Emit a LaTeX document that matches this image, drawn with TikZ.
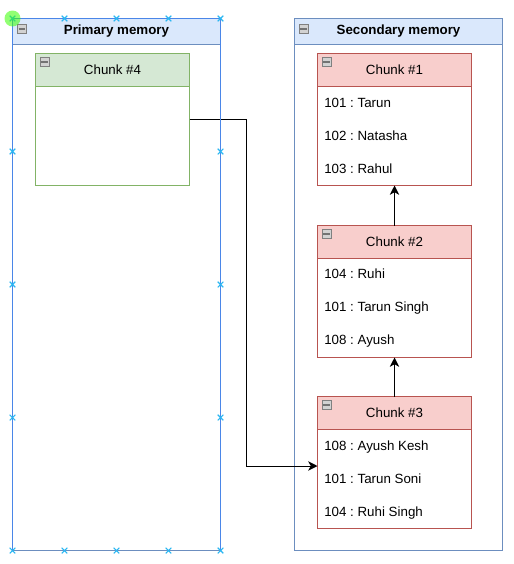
\documentclass[tikz,border=0pt]{standalone}
\usepackage{fontspec}
\setmainfont{Liberation Sans}
\usetikzlibrary{arrows.meta,shapes.misc}

\definecolor{memfill}{HTML}{DAE8FC}
\definecolor{memline}{HTML}{6C8EBF}
\definecolor{redfill}{HTML}{F8CECC}
\definecolor{redline}{HTML}{B85450}
\definecolor{greenfill}{HTML}{D5E8D4}
\definecolor{greenline}{HTML}{82B366}
\definecolor{handle}{HTML}{29B6F2}
\definecolor{selline}{HTML}{4A86E8}

\frenchspacing

\tikzset{
  container/.style={draw=memline, fill=white, line width=0.75pt, anchor=north west,
    minimum width=156pt, minimum height=399pt, inner sep=0pt, outer sep=0pt},
  memhead/.style={draw=memline, fill=memfill, line width=0.75pt, anchor=north west,
    minimum width=156pt, minimum height=19.5pt, inner sep=0pt, outer sep=0pt, font=\bfseries},
  redchunk/.style={draw=redline, fill=white, line width=0.85pt, anchor=north west,
    minimum width=115.5pt, minimum height=99pt, inner sep=0pt, outer sep=0pt},
  redhead/.style={draw=redline, fill=redfill, line width=0.85pt, anchor=north west,
    minimum width=115.5pt, minimum height=24.75pt, inner sep=0pt, outer sep=0pt},
  greenchunk/.style={draw=greenline, fill=white, line width=0.85pt, anchor=north west,
    minimum width=115.5pt, minimum height=99pt, inner sep=0pt, outer sep=0pt},
  greenhead/.style={draw=greenline, fill=greenfill, line width=0.85pt, anchor=north west,
    minimum width=115.5pt, minimum height=24.75pt, inner sep=0pt, outer sep=0pt},
  entry/.style={anchor=base west, inner sep=0pt},
  collapse/.style={draw=gray, fill=gray!35, minimum size=6.5pt, inner sep=0pt,
    path picture={\draw[black!55, line width=1.2pt]
      ([xshift=0.8pt]path picture bounding box.west) -- ([xshift=-0.8pt]path picture bounding box.east);}},
  link/.style={draw=black, line width=0.75pt, -{Stealth[length=7pt,width=7pt,inset=2pt]}},
  selhandle/.style={cross out, draw=handle, line width=0.8pt, minimum size=3.5pt, inner sep=0pt}
}

\begin{document}
\begin{tikzpicture}[x=0.75pt, y=-0.75pt, font=\fontsize{10}{12}\selectfont]

\useasboundingbox (0,0) rectangle (514,564);

% primary memory
\node[container] (primary) at (12.5,18.5) {};
\node[memhead] (primaryhead) at (12.5,18.5) {Primary memory};
\node[collapse] (primaryicon) at (22,29) {};

\node[greenchunk] (chunk4) at (35.5,53.5) {};
\node[greenhead] (chunk4head) at (35.5,53.5) {Chunk \#4};
\node[collapse] (chunk4icon) at (44.5,62) {};

% secondary memory
\node[container] (secondary) at (294.5,18.5) {};
\node[memhead] (secondaryhead) at (294.5,18.5) {Secondary memory};
\node[collapse] (secondaryicon) at (303.5,29) {};

\node[redchunk] (chunk1) at (317.5,53.5) {};
\node[redhead] (chunk1head) at (317.5,53.5) {Chunk \#1};
\node[collapse] (chunk1icon) at (326.5,62) {};
\node[entry] (c1a) at (324,107) {101 : Tarun};
\node[entry] (c1b) at (324,140) {102 : Natasha};
\node[entry] (c1c) at (324,173) {103 : Rahul};

\node[redchunk] (chunk2) at (317.5,225.5) {};
\node[redhead] (chunk2head) at (317.5,225.5) {Chunk \#2};
\node[collapse] (chunk2icon) at (326.5,234) {};
\node[entry] (c2a) at (324,278) {104 : Ruhi};
\node[entry] (c2b) at (324,311) {101 : Tarun Singh};
\node[entry] (c2c) at (324,344) {108 : Ayush};

\node[redchunk] (chunk3) at (317.5,396.5) {};
\node[redhead] (chunk3head) at (317.5,396.5) {Chunk \#3};
\node[collapse] (chunk3icon) at (326.5,405) {};
\node[entry] (c3a) at (324,450) {108 : Ayush Kesh};
\node[entry] (c3b) at (324,483) {101 : Tarun Soni};
\node[entry] (c3c) at (324,516) {104 : Ruhi Singh};

% links
\coordinate (bend) at (246.5,466);
\draw[link] (chunk4.east) -| (bend) -- (bend -| chunk3.west);
\draw[link] (chunk3.north) -- (chunk2.south);
\draw[link] (chunk2.north) -- (chunk1.south);

% selection of primary memory
\draw[selline, line width=0.6pt] (primary.south west) -- (primary.north west) -- (primary.north east) -- (primary.south east);
\foreach \x in {12.5,64.5,116.5,168.5,220.5} {
  \node[selhandle] at (\x,18.5) {};
  \node[selhandle] at (\x,550.5) {};
}
\foreach \y in {151.5,284.5,417.5} {
  \node[selhandle] at (12.5,\y) {};
  \node[selhandle] at (220.5,\y) {};
}
\fill[green!70!lime, opacity=0.55] (12.5,18.5) circle (8);

\end{tikzpicture}
\end{document}
